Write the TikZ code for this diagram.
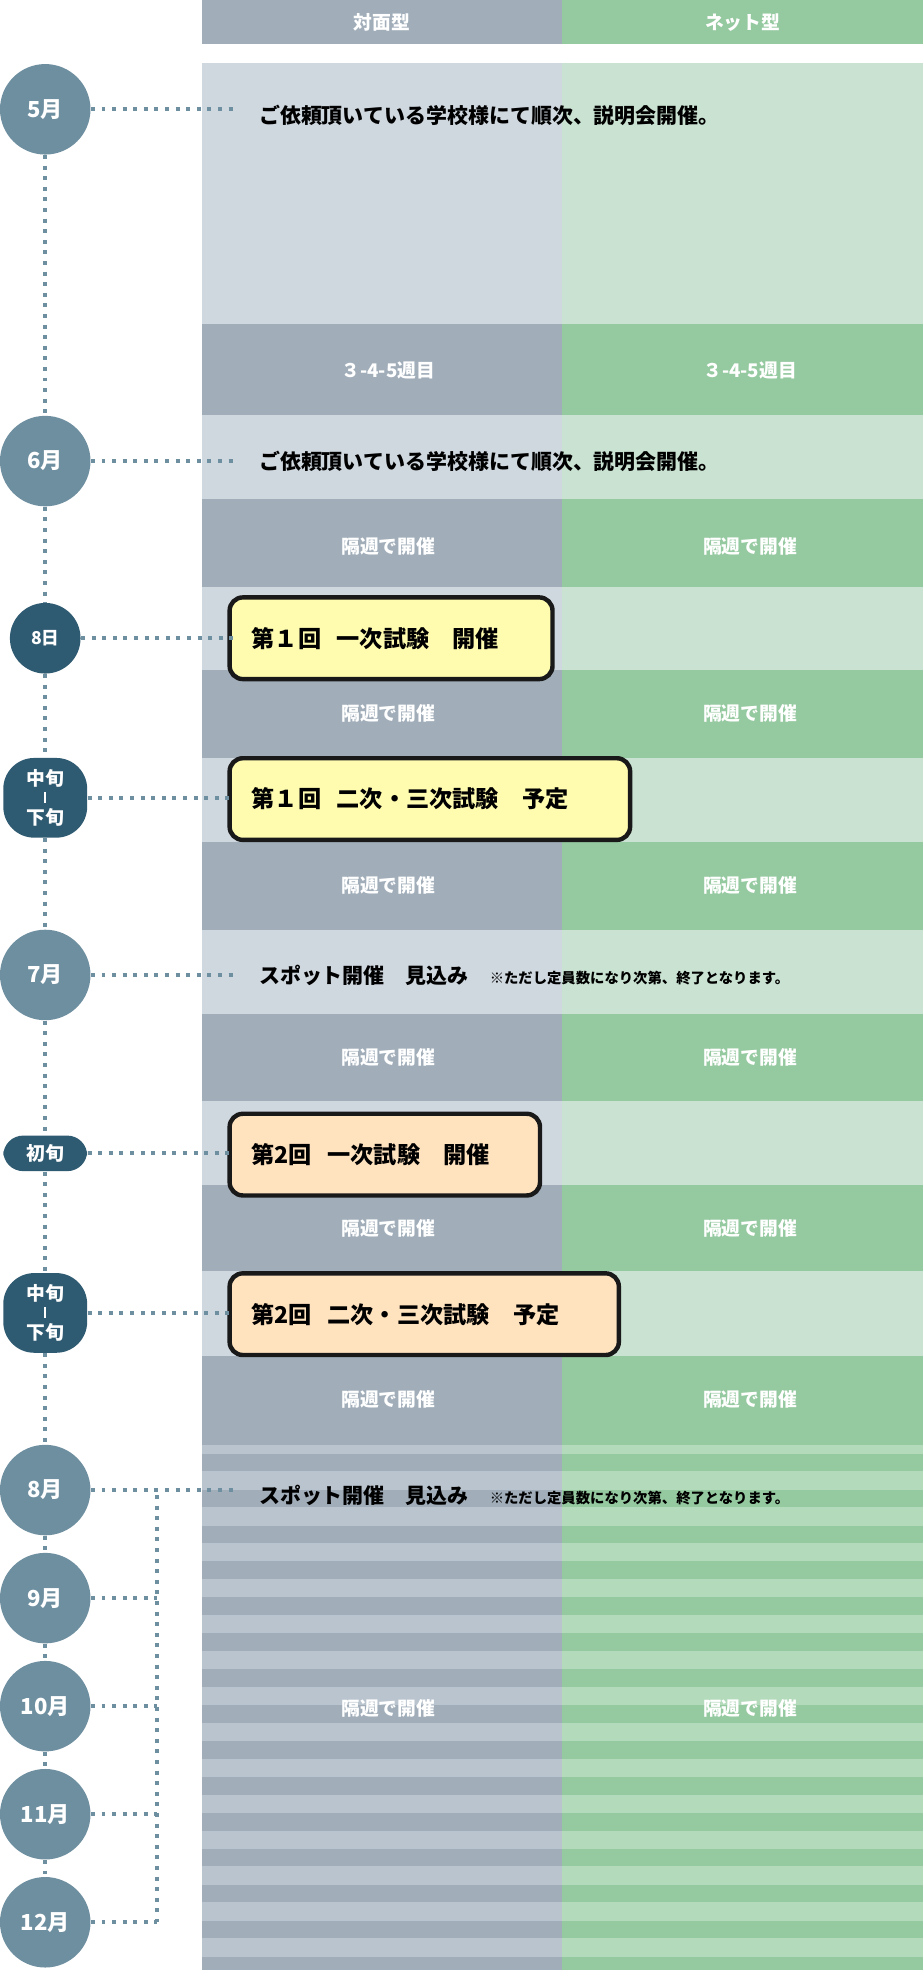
\documentclass[tikz,border=0pt]{standalone}
\usepackage{fontspec}
\setmainfont{Noto Sans CJK JP}
\usetikzlibrary{positioning}
\definecolor{grayD}{HTML}{A1AEBA}
\definecolor{grayL}{HTML}{CFD7DF}
\definecolor{grayS}{HTML}{BAC4CE}
\definecolor{greenD}{HTML}{95C9A0}
\definecolor{greenL}{HTML}{C9E2D1}
\definecolor{greenS}{HTML}{B3DABB}
\definecolor{month}{HTML}{6E8FA0}
\definecolor{day}{HTML}{2F5B72}
\definecolor{yel}{HTML}{FFFCB0}
\definecolor{ora}{HTML}{FFE3BF}
\tikzset{
  mon/.style={circle, fill=month, minimum size=41pt, inner sep=0pt, text=white, font=\bfseries\fontsize{10}{12}\selectfont},
  dayc/.style={circle, fill=day, minimum size=32pt, inner sep=0pt, text=white, font=\bfseries\fontsize{8}{10}\selectfont},
  pill/.style={rounded corners=14pt, fill=day, text width=28pt, align=center, inner sep=5pt, text=white, font=\bfseries\fontsize{8.5}{11}\selectfont},
  dots/.style={month, line width=1.8pt, dash pattern=on 1.8pt off 3pt},
  wtxt/.style={text=white, font=\bfseries\fontsize{8.5}{10}\selectfont},
  btxt/.style={anchor=west, font=\bfseries\fontsize{9.5}{11}\selectfont},
  event/.style={anchor=west, draw=black!90, line width=2pt, rounded corners=6pt, minimum height=37pt,
    inner xsep=10pt, align=left, font=\bfseries\fontsize{10.5}{12}\selectfont}
}
\newcommand{\midbar}{\rule[1pt]{0.8pt}{5pt}}
\begin{document}
\begin{tikzpicture}[x=0.02cm, y=-0.02cm]
\useasboundingbox (0,0) rectangle (735,1568);

% header
\fill[grayD] (161,0) rectangle (447,35);
\fill[greenD] (447,0) rectangle (735,35);
\node[wtxt] at (304,18) {対面型};
\node[wtxt] at (591,18) {ネット型};

% rows
\foreach \ya/\yb/\kind in {50/258/L, 258/330/D, 330/397/L, 397/467/D, 467/533/L, 533/603/D,
  603/670/L, 670/740/D, 740/807/L, 807/876/D, 876/943/L, 943/1012/D, 1012/1079/L, 1079/1150/D}{
  \fill[gray\kind] (161,\ya) rectangle (447,\yb);
  \fill[green\kind] (447,\ya) rectangle (735,\yb);
}
% stripes
\fill[grayS] (161,1150) rectangle (447,1565);
\fill[greenS] (447,1150) rectangle (735,1565);
\foreach \i in {0,...,14}{
  \fill[grayD] (161,1150+7+\i*28.6) rectangle (447,1150+21+\i*28.6);
  \fill[greenD] (447,1150+7+\i*28.6) rectangle (735,1150+21+\i*28.6);
}

% row texts
\foreach \y in {435,568,705,842,978,1114,1360}{
  \node[wtxt] at (309,\y) {隔週で開催};
  \node[wtxt] at (597,\y) {隔週で開催};
}
\node[wtxt] at (309,295) {３-4-5週目};
\node[wtxt] at (597,295) {３-4-5週目};
\node[btxt] (t5) at (200,92) {ご依頼頂いている学校様にて順次、説明会開催。};
\node[btxt] (t6) at (200,367) {ご依頼頂いている学校様にて順次、説明会開催。};
\node[btxt] (t7) at (200,776) {スポット開催\quad 見込み\quad{\fontsize{6.5}{8}\selectfont ※ただし定員数になり次第、終了となります。}};
\node[btxt] (t8) at (200,1190) {スポット開催\quad 見込み\quad{\fontsize{6.5}{8}\selectfont ※ただし定員数になり次第、終了となります。}};

% events
\node[event, fill=yel, text width=258*0.567pt-20pt] (e1) at (181,508) {第１回\ \ 一次試験\quad 開催};
\node[event, fill=yel, text width=320*0.567pt-20pt] (e2) at (181,636) {第１回\ \ 二次・三次試験\quad 予定};
\node[event, fill=ora, text width=248*0.567pt-20pt] (e3) at (181,919) {第2回\ \ 一次試験\quad 開催};
\node[event, fill=ora, text width=311*0.567pt-20pt] (e4) at (181,1046) {第2回\ \ 二次・三次試験\quad 予定};

% timeline
\node[mon] (m5) at (36,87) {5月};
\node[mon] (m6) at (36,367) {6月};
\node[dayc] (d8) at (36,508) {8日};
\node[pill] (p1) at (36,635) {中旬\\[-2pt]\midbar\\[-2pt]下旬};
\node[mon] (m7) at (36,776) {7月};
\node[pill, inner ysep=4pt, rounded corners=9pt] (p2) at (36,918) {初旬};
\node[pill] (p3) at (36,1045) {中旬\\[-2pt]\midbar\\[-2pt]下旬};
\node[mon] (m8) at (36,1186) {8月};
\node[mon] (m9) at (36,1272) {9月};
\node[mon] (m10) at (36,1358) {10月};
\node[mon] (m11) at (36,1444) {11月};
\node[mon] (m12) at (36,1530) {12月};

\foreach \a/\b in {m5/m6, m6/d8, d8/p1, p1/m7, m7/p2, p2/p3, p3/m8, m8/m9, m9/m10, m10/m11, m11/m12}
  \draw[dots] (\a) -- (\b);
\foreach \a in {m5, m6, d8, p1, m7, p2, p3, m8}
  \draw[dots] (\a.east) -- (187,0 |- \a.east);
\coordinate (br) at (125,1530);
\coordinate (bt) at (125,1190);
\draw[dots] (bt) -- (br);
\foreach \a in {m9, m10, m11, m12}
  \draw[dots] (\a.east) -- (125,0 |- \a.east);
\end{tikzpicture}
\end{document}
